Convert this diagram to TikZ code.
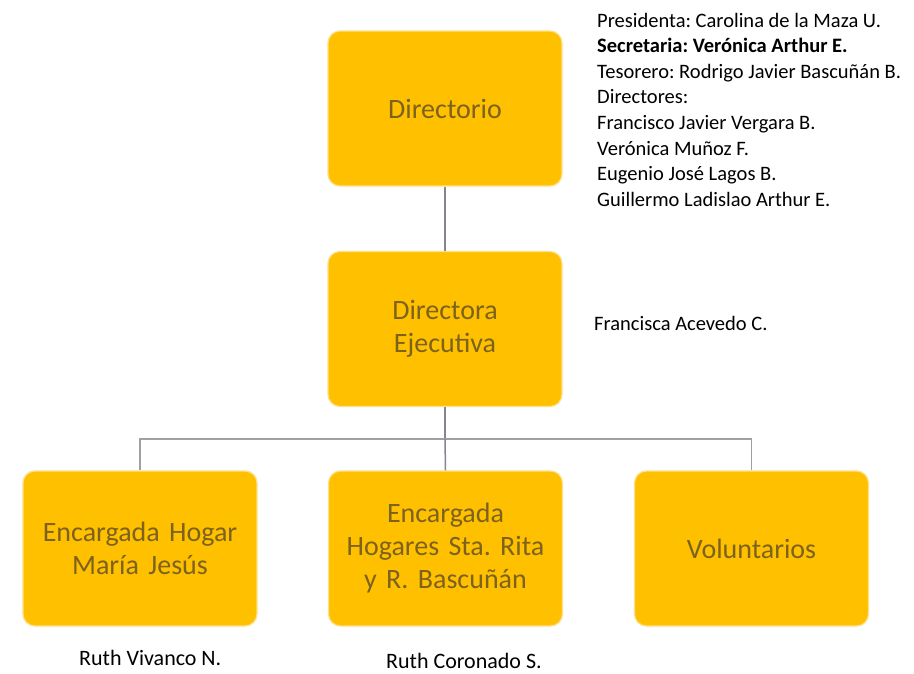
\documentclass[tikz,border=0pt]{standalone}
\usepackage{fontspec}
\setmainfont{Carlito}
\definecolor{gold}{HTML}{FFC000}
\definecolor{goldedge}{HTML}{FFE08A}
\definecolor{boxtext}{RGB}{124,98,30}
\definecolor{linegray}{HTML}{A0A0A0}
\definecolor{linedark}{HTML}{858590}
\begin{document}
\frenchspacing
\begin{tikzpicture}[x=1pt,y=-1pt,
  orgbox/.style={draw=goldedge, line width=1.2pt, fill=gold, rounded corners=12pt,
    minimum width=234pt, minimum height=155pt, text width=220pt, align=center,
    inner sep=0pt, text=boxtext, font=\fontsize{28}{33}\selectfont},
  info/.style={anchor=base west, inner sep=0pt, font=\fontsize{20.5}{26}\selectfont},
  namelabel/.style={anchor=base west, inner sep=0pt, font=\fontsize{22}{26}\selectfont},
  conn/.style={draw=linegray, line width=1.5pt},
  conndark/.style={draw=linedark, line width=1.5pt}]
\useasboundingbox (0,0) rectangle (914,673);
\fill[white] (0,0) rectangle (914,673);

% boxes
\node[orgbox] (dir) at (445,108.5) {Directorio};
\node[orgbox] (exe) at (445,329) {Directora\\Ejecutiva};
\node[orgbox] (b1) at (140,548.5) {Encargada Hogar\\María Jesús};
\node[orgbox] (b2) at (445.5,548.5) {Encargada\\Hogares Sta. Rita\\y R. Bascuñán};
\node[orgbox] (b3) at (751.5,548.5) {Voluntarios};

% connectors
\coordinate (bus) at (445,439);
\draw[conndark] (dir.south) -- (exe.north);
\draw[conndark] (exe.south) -- (bus);
\draw[conn] (b1.north) -- (b1.north |- bus) -- (b3.north |- bus) -- (b3.north);
\draw[conndark] (bus) -- (b2.north);

% board listing
\node[info] (l1) at (597,27) {Presidenta: Carolina de la Maza U.};
\node[info] (l2) at (597,52.6) {\bfseries Secretaria: Verónica Arthur E.};
\node[info] (l3) at (597,78.2) {Tesorero: Rodrigo Javier Bascuñán B.};
\node[info] (l4) at (597,103.8) {Directores:};
\node[info] (l5) at (597,129.4) {Francisco Javier Vergara B.};
\node[info] (l6) at (597,155) {Verónica Muñoz F.};
\node[info] (l7) at (597,180.6) {Eugenio José Lagos B.};
\node[info] (l8) at (597,206.2) {Guillermo Ladislao Arthur E.};

\node[info] (fa) at (594,330) {Francisca Acevedo C.};

\node[namelabel] (rv) at (79,665) {Ruth Vivanco N.};
\node[namelabel] (rc) at (386,668.5) {Ruth Coronado S.};
\end{tikzpicture}
\end{document}
